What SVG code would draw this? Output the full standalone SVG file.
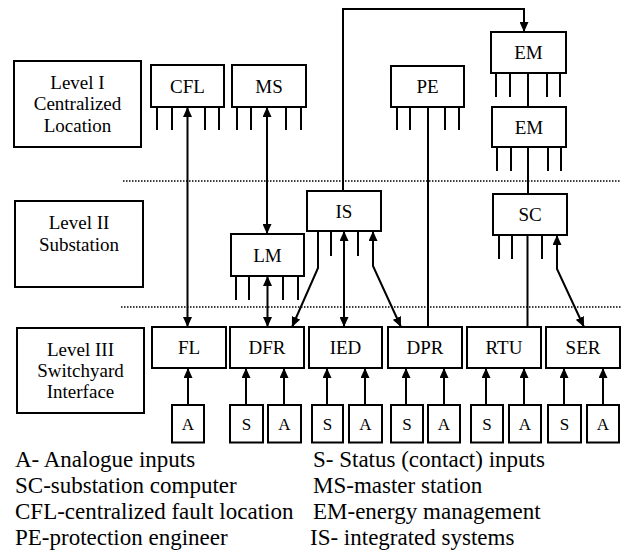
<svg xmlns="http://www.w3.org/2000/svg" width="623" height="553" viewBox="0 0 623 553">
<style>
.box{fill:#fff;stroke:#000;stroke-width:2}
.pin{stroke:#000;stroke-width:2;fill:none}
.ln{stroke:#000;stroke-width:2;fill:none}
.dot{stroke:#000;stroke-width:1.5;stroke-dasharray:1.5 1.5;fill:none}
text{font-family:'Liberation Serif','Tinos','Times New Roman','DejaVu Serif',serif;fill:#000}
.lbl{font-size:19px;text-anchor:middle}
.in{font-size:17px;text-anchor:middle}
.leg{font-size:23px}
.a2{marker-start:url(#ah);marker-end:url(#ah)}
.a1{marker-end:url(#ah)}
</style>
<defs>
<marker id="ah" viewBox="0 0 10 9" refX="10" refY="4.5" markerWidth="10" markerHeight="9" markerUnits="userSpaceOnUse" orient="auto-start-reverse">
<path d="M0,0 L10,4.5 L0,9 Z" fill="#000"/>
</marker>
</defs>
<rect width="623" height="553" fill="#fff"/>

<g id="dividers">
<line class="dot" x1="123" y1="181" x2="621" y2="181"/>
<line class="dot" x1="121" y1="307" x2="621" y2="307"/>
</g>

<g id="level1"><rect class="box" x="14" y="61" width="127" height="86"/>
<text class="lbl" font-family="Liberation Serif, serif" x="77.5" y="89">Level I</text><text class="lbl" font-family="Liberation Serif, serif" x="77.5" y="110">Centralized</text><text class="lbl" font-family="Liberation Serif, serif" x="77.5" y="131.5">Location</text></g>
<g id="level2"><rect class="box" x="15" y="201" width="128" height="86"/>
<text class="lbl" x="79" y="229">Level II</text><text class="lbl" x="79" y="251">Substation</text></g>
<g id="level3"><rect class="box" x="17" y="328" width="127" height="85"/>
<text class="lbl" x="80.5" y="356">Level III</text><text class="lbl" x="80.5" y="377">Switchyard</text><text class="lbl" x="80.5" y="398">Interface</text></g>

<g id="CFL"><rect class="box" x="151" y="65" width="73" height="42"/><text class="lbl" x="187.5" y="92.5">CFL</text>
<path class="pin" d="M157,107V130M172,107V130M205,107V130M219,107V130"/></g>
<g id="MS"><rect class="box" x="232" y="65" width="74" height="42"/><text class="lbl" x="269" y="92.5">MS</text>
<path class="pin" d="M237,107V130M251,107V130M286,107V130M301,107V130"/></g>
<g id="PE"><rect class="box" x="391" y="66" width="73" height="41"/><text class="lbl" x="427.5" y="93">PE</text>
<path class="pin" d="M397,107V130M410,107V130M445,107V130M459,107V130"/></g>
<g id="EM1"><rect class="box" x="491" y="32" width="75" height="41"/><text class="lbl" x="528.5" y="59">EM</text>
<path class="pin" d="M496,73V97M510,73V97M547,73V97M560,73V97"/></g>
<g id="EM2"><rect class="box" x="492" y="107" width="74" height="40"/><text class="lbl" x="529" y="133.5">EM</text>
<path class="pin" d="M497,147V171M511,147V171M548,147V171M561,147V171"/></g>
<g id="IS"><rect class="box" x="307" y="191" width="74" height="40"/><text class="lbl" x="344" y="217.5">IS</text>
<path class="pin" d="M331,231V256M358,231V256"/></g>
<g id="SC"><rect class="box" x="493" y="194" width="74" height="41"/><text class="lbl" x="530" y="221">SC</text>
<path class="pin" d="M499,235V259M512,235V259M542,235V259"/></g>
<g id="LM"><rect class="box" x="231" y="234" width="73" height="42"/><text class="lbl" x="267.5" y="261.5">LM</text>
<path class="pin" d="M236,276V300M249,276V300M283,276V300M298,276V300"/></g>

<g id="FL"><rect class="box" x="152" y="327" width="74" height="41"/><text class="lbl" x="189" y="354">FL</text></g>
<g id="DFR"><rect class="box" x="230" y="327" width="74" height="41"/><text class="lbl" x="267" y="354">DFR</text></g>
<g id="IED"><rect class="box" x="309" y="327" width="73" height="41"/><text class="lbl" x="345.5" y="354">IED</text></g>
<g id="DPR"><rect class="box" x="388" y="327" width="74" height="41"/><text class="lbl" x="425" y="354">DPR</text></g>
<g id="RTU"><rect class="box" x="467" y="327" width="74" height="41"/><text class="lbl" x="504" y="354">RTU</text></g>
<g id="SER"><rect class="box" x="546" y="327" width="74" height="41"/><text class="lbl" x="583" y="354">SER</text></g>

<g id="in-FL-A"><rect class="box" x="172" y="405" width="32" height="37.5"/><text class="in" x="188" y="430">A</text></g>
<g id="in-DFR-S"><rect class="box" x="230" y="405" width="33" height="37.5"/><text class="in" x="246.5" y="430">S</text></g>
<g id="in-DFR-A"><rect class="box" x="268" y="405" width="33" height="37.5"/><text class="in" x="284.5" y="430">A</text></g>
<g id="in-IED-S"><rect class="box" x="312" y="405" width="31" height="37.5"/><text class="in" x="327.5" y="430">S</text></g>
<g id="in-IED-A"><rect class="box" x="349" y="405" width="33" height="37.5"/><text class="in" x="365.5" y="430">A</text></g>
<g id="in-DPR-S"><rect class="box" x="391" y="405" width="32" height="37.5"/><text class="in" x="407" y="430">S</text></g>
<g id="in-DPR-A"><rect class="box" x="428" y="405" width="32" height="37.5"/><text class="in" x="444" y="430">A</text></g>
<g id="in-RTU-S"><rect class="box" x="471" y="405" width="32" height="37.5"/><text class="in" x="487" y="430">S</text></g>
<g id="in-RTU-A"><rect class="box" x="509" y="405" width="32" height="37.5"/><text class="in" x="525" y="430">A</text></g>
<g id="in-SER-S"><rect class="box" x="548" y="405" width="33" height="37.5"/><text class="in" x="564.5" y="430">S</text></g>
<g id="in-SER-A"><rect class="box" x="587" y="405" width="32" height="37.5"/><text class="in" x="603" y="430">A</text></g>

<g id="connectors">
<line class="ln a2" x1="187.5" y1="107" x2="187.5" y2="327"/>
<line class="ln a2" x1="267" y1="107" x2="267" y2="234"/>
<line class="ln a2" x1="267.5" y1="276" x2="267.5" y2="327"/>
<path class="ln a1" d="M343,191V9H524V32"/>
<path class="ln a1" d="M318,231V268L292,327"/>
<line class="ln a2" x1="344" y1="231" x2="344" y2="327"/>
<path class="ln a2" d="M373,231V266L401,327"/>
<line class="ln" x1="428" y1="107" x2="428" y2="327"/>
<line class="ln" x1="528" y1="73" x2="528" y2="107"/>
<line class="ln" x1="528" y1="147" x2="528" y2="194"/>
<line class="ln" x1="527.5" y1="235" x2="527.5" y2="327"/>
<path class="ln a2" d="M557,235V269L584,327"/>
<line class="ln a1" x1="188" y1="405" x2="188" y2="368"/>
<line class="ln a1" x1="246" y1="405" x2="246" y2="368"/>
<line class="ln a1" x1="284" y1="405" x2="284" y2="368"/>
<line class="ln a1" x1="327" y1="405" x2="327" y2="368"/>
<line class="ln a1" x1="365" y1="405" x2="365" y2="368"/>
<line class="ln a1" x1="406" y1="405" x2="406" y2="368"/>
<line class="ln a1" x1="444" y1="405" x2="444" y2="368"/>
<line class="ln a1" x1="486" y1="405" x2="486" y2="368"/>
<line class="ln a1" x1="524" y1="405" x2="524" y2="368"/>
<line class="ln a1" x1="564" y1="405" x2="564" y2="368"/>
<line class="ln a1" x1="603" y1="405" x2="603" y2="368"/>
</g>

<g id="legend">
<text class="leg" x="15" y="467">A- Analogue inputs</text>
<text class="leg" x="15" y="493">SC-substation computer</text>
<text class="leg" x="15" y="519">CFL-centralized fault location</text>
<text class="leg" x="15" y="545">PE-protection engineer</text>
<text class="leg" x="313" y="467">S- Status (contact) inputs</text>
<text class="leg" x="313" y="493">MS-master station</text>
<text class="leg" x="313" y="519">EM-energy management</text>
<text class="leg" x="310" y="545">IS- integrated systems</text>
</g>
</svg>
